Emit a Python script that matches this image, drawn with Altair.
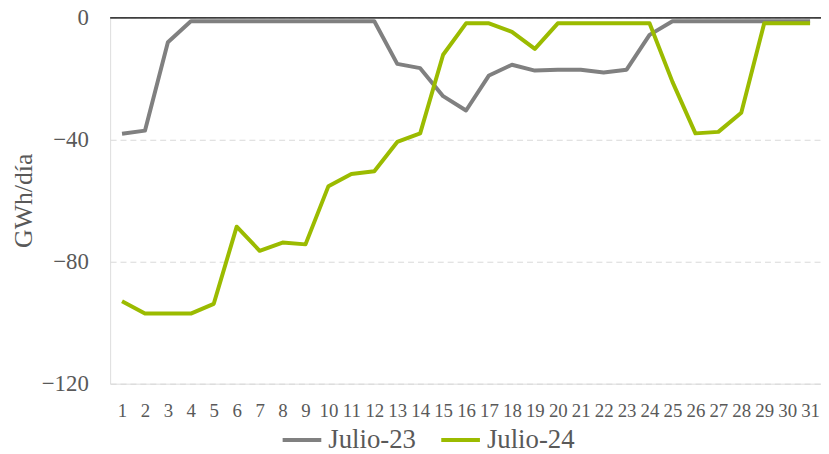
import altair as alt
import pandas as pd

days = list(range(1, 32))
julio_23 = [-38, -37, -8, -1.1, -1.1, -1.1, -1.1, -1.1, -1.1, -1.1, -1.1, -1.1,
            -15.1, -16.5, -25.7, -30.4, -18.9, -15.4, -17.3, -17, -17, -17.9, -17,
            -5.6, -1.1, -1.1, -1.1, -1.1, -1.1, -1.1, -1.1]
julio_24 = [-93, -97, -97, -97, -93.8, -68.5, -76.4, -73.7, -74.3, -55.2, -51.2,
            -50.3, -40.7, -37.9, -12.1, -1.8, -1.8, -4.6, -10.2, -1.8, -1.8, -1.8,
            -1.8, -1.8, -21, -37.9, -37.4, -31.1, -1.8, -1.8, -1.8]
series_names = ["Julio-23", "Julio-24"]
series_colors = ["#808080", "#9bbb00"]
y_ticks = [-120, -80, -40, 0]

rows = []
for name, vals in zip(series_names, [julio_23, julio_24]):
    for d, v in zip(days, vals):
        rows.append({"dia": d, "valor": v, "serie": name})
df = pd.DataFrame(rows)

FONT = "Liberation Serif"
TXT = "#595959"

x_scale = alt.Scale(domain=[0.4813, 31.476], nice=False, zero=False)
y_scale = alt.Scale(domain=[-120, 0], nice=False)

x_axis = alt.Axis(values=days, format="d", title=None, grid=False, ticks=False,
                  domain=False, labelFont=FONT, labelFontSize=19,
                  labelColor=TXT, labelPadding=18, labelFlush=False,
                  labelOverlap=False)
y_axis = alt.Axis(values=y_ticks, title="GWh/día", grid=True,
                  gridColor="#d9d9d9", gridDash=[6, 4], gridWidth=1,
                  ticks=False, domain=False, labelFont=FONT, labelFontSize=23,
                  labelColor=TXT, labelPadding=22, titleFont=FONT,
                  titleFontSize=26, titleFontWeight="normal", titleColor=TXT,
                  titleAngle=-90, titleX=-87, titleY=184, titleAlign="center",
                  titleBaseline="middle")

lines = alt.Chart(df).mark_line(strokeWidth=4, strokeJoin="round").encode(
    x=alt.X("dia:Q", scale=x_scale, axis=x_axis),
    y=alt.Y("valor:Q", scale=y_scale, axis=y_axis),
    color=alt.Color(
        "serie:N",
        scale=alt.Scale(domain=series_names, range=series_colors),
        legend=alt.Legend(
            title=None, orient="none", direction="horizontal",
            legendX=172, legendY=404, symbolType="stroke",
            symbolSize=1521, symbolStrokeWidth=4, labelFont=FONT,
            labelFontSize=27, labelColor=TXT, labelOffset=5,
            columnPadding=17, padding=0,
        ),
    ),
    order=alt.Order("serie:N"),
)

zero_df = pd.DataFrame({"y": [0]})
zero_rule = alt.Chart(zero_df).mark_rule(color="#000000", strokeWidth=1.3).encode(
    y=alt.Y("y:Q", scale=y_scale, axis=y_axis)
)

chart = alt.layer(lines, zero_rule).properties(
    width=717, height=369,
    autosize=alt.AutoSizeParams(type="none"),
    padding={"left": 103, "top": 8, "right": 0, "bottom": 69},
).configure_view(strokeWidth=0, stroke="transparent").configure(background="white")

chart.save("out.html", embed_options={"renderer": "svg", "actions": False})
